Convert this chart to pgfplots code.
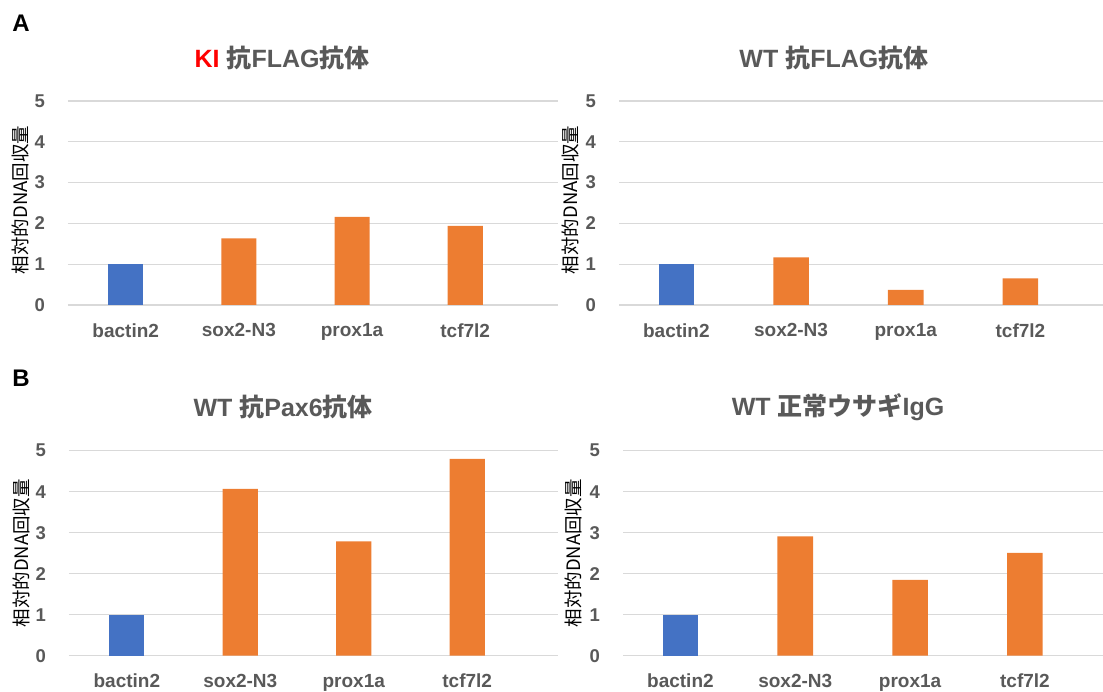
\documentclass[border=0pt]{standalone}
\usepackage{pgfplots}
\pgfplotsset{compat=1.18}
\usepackage{fontspec}
\setmainfont{Liberation Sans}
\newfontfamily\cjk{Noto Sans CJK JP}
\definecolor{barblue}{HTML}{4472C4}
\definecolor{barorange}{HTML}{ED7D31}
\definecolor{gridc}{HTML}{D9D9D9}
\definecolor{lab}{HTML}{595959}
\pgfplotsset{panel/.style={
  scale only axis, ybar, bar shift=0pt, bar width=0.31,
  enlargelimits=false,
  ymin=0, ymax=5, ytick={0,1,2,3,4,5},
  xtick={0,1,2,3}, xticklabels={bactin2,sox2-N3,prox1a,tcf7l2},
  axis line style={draw=none}, tick style={draw=none},
  ymajorgrids, major grid style={draw=gridc, line width=1.2pt},
  /pgf/number format/assume math mode=true,
  yticklabel style={font=\fontsize{18.5}{20}\selectfont\bfseries, text=lab, inner sep=0pt, anchor=east, xshift=-23pt},
  xticklabel style={font=\fontsize{19}{21}\selectfont\bfseries, text=lab, inner sep=0pt, anchor=north, yshift=-14pt},
  ylabel={\cjk 相対的DNA回収量},
  every axis title/.style={anchor=center, font=\fontsize{25}{27}\selectfont\bfseries, text=lab},
}}
\tikzset{ylab/.style 2 args={at={([xshift=#1]axis description cs:0,#2)}, rotate=90, anchor=center, font=\fontsize{18.5}{20}\selectfont}}
\begin{document}
\begin{tikzpicture}
\useasboundingbox (0,0) rectangle (1103pt,692pt);
% A left
\begin{axis}[panel, name=A1, at={(68pt,387pt)}, anchor=south west, width=490pt, height=204pt,
  xmin=-0.51, xmax=3.82,
  every axis y label/.style={ylab={-48pt}{0.515}},
  title={{\color{red}KI} {\cjk 抗}FLAG{\cjk 抗体}},
  title style={at={(axis description cs:0.437,1)}, yshift=43pt}]
\addplot[fill=barblue, draw=none] coordinates {(0,1.00)};
\addplot[fill=barorange, draw=none] coordinates {(1,1.63) (2,2.16) (3,1.94)};
\end{axis}
% A right
\begin{axis}[panel, at={(619pt,387pt)}, anchor=south west, width=484pt, height=204pt,
  xmin=-0.50, xmax=3.72,
  every axis y label/.style={ylab={-49pt}{0.515}},
  title={WT {\cjk 抗}FLAG{\cjk 抗体}},
  title style={at={(axis description cs:0.444,1)}, yshift=43pt}]
\addplot[fill=barblue, draw=none] coordinates {(0,1.00)};
\addplot[fill=barorange, draw=none] coordinates {(1,1.17) (2,0.37) (3,0.65)};
\end{axis}
% B left
\begin{axis}[panel, name=B1, at={(69pt,36.3pt)}, anchor=south west, width=489pt, height=205pt,
  xmin=-0.51, xmax=3.80,
  every axis y label/.style={ylab={-47.5pt}{0.50}},
  title={WT {\cjk 抗}Pax6{\cjk 抗体}},
  title style={at={(axis description cs:0.438,1)}, yshift=44pt}]
\addplot[fill=barblue, draw=none] coordinates {(0,1.00)};
\addplot[fill=barorange, draw=none] coordinates {(1,4.07) (2,2.79) (3,4.80)};
\end{axis}
% B right
\begin{axis}[panel, at={(623pt,36.3pt)}, anchor=south west, width=480pt, height=205pt,
  xmin=-0.50, xmax=3.68,
  every axis y label/.style={ylab={-49.5pt}{0.50}},
  title={WT {\cjk 正常ウサギ}IgG},
  title style={at={(axis description cs:0.448,1)}, yshift=44pt}]
\addplot[fill=barblue, draw=none] coordinates {(0,1.00)};
\addplot[fill=barorange, draw=none] coordinates {(1,2.91) (2,1.85) (3,2.51)};
\end{axis}
\node[font=\fontsize{24}{26}\selectfont\bfseries, text=black] at ([xshift=-47pt, yshift=78pt]A1.north west) {A};
\node[font=\fontsize{24}{26}\selectfont\bfseries, text=black] at ([xshift=-48pt, yshift=72pt]B1.north west) {B};
\end{tikzpicture}
\end{document}
